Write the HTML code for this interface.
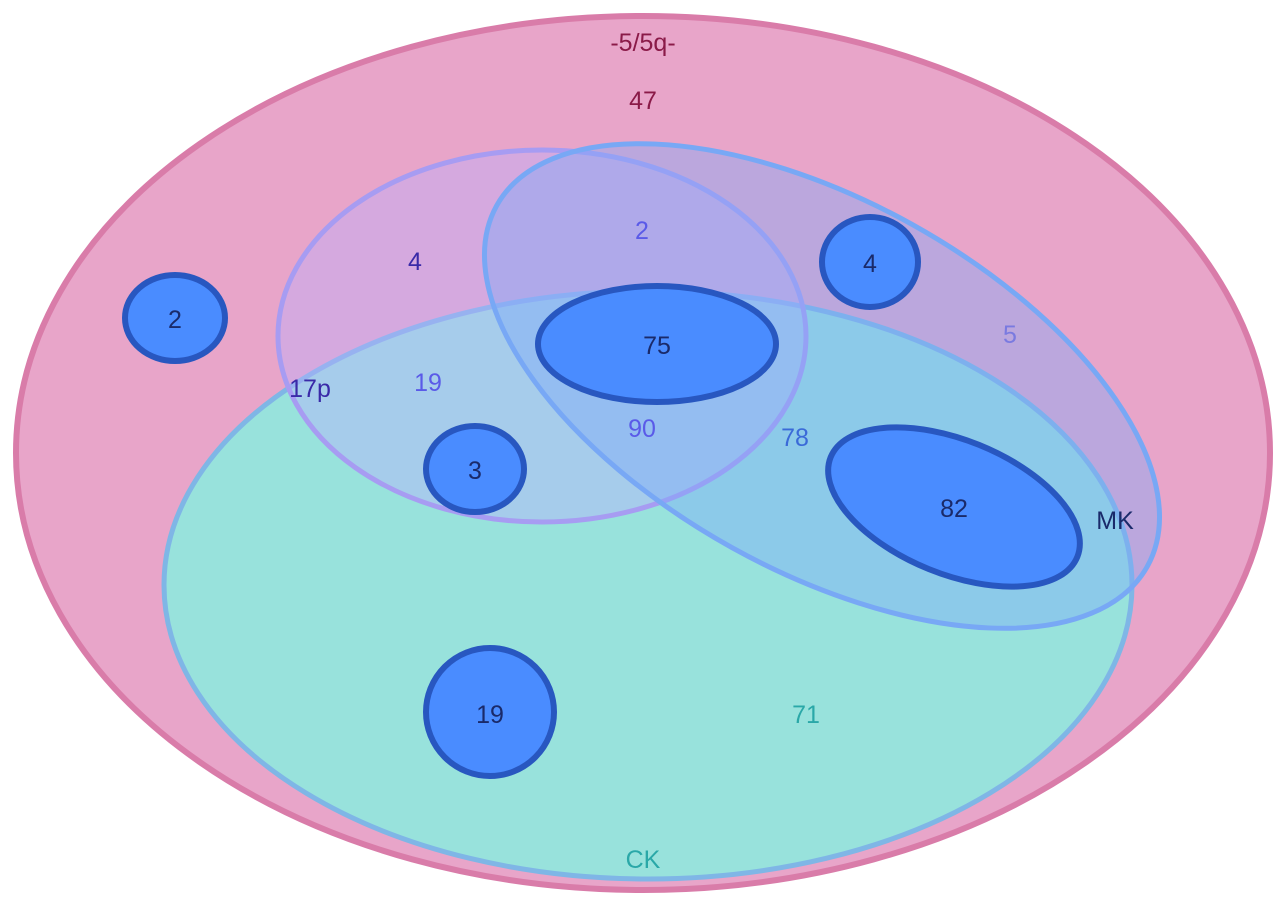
<!DOCTYPE html>
<html><head><style>body{margin:0;background:#fff}svg{display:block}text{font-family:"Liberation Sans",sans-serif;font-size:25px;text-anchor:middle;dominant-baseline:central}</style></head>
<body>
<svg width="1280" height="909" viewBox="0 0 1280 909">
<ellipse cx="643" cy="453" rx="627" ry="437" fill="#e8a5c9" stroke="#d97ca9" stroke-width="6"/>
<ellipse cx="648" cy="585" rx="484" ry="294" fill="#98e2dc" stroke="#7fb6e6" stroke-width="5"/>
<ellipse cx="542" cy="336" rx="264" ry="186" fill="rgba(185,175,255,0.42)" stroke="#a79cf2" stroke-width="5"/>
<ellipse cx="822" cy="386" rx="372" ry="185" transform="rotate(29 822 386)" fill="rgba(125,170,250,0.42)" stroke="#78a8f5" stroke-width="5"/>
<g fill="#4a8cff" stroke="#2857c0" stroke-width="6">
<ellipse cx="175" cy="318" rx="50" ry="43"/>
<ellipse cx="870" cy="262" rx="48" ry="45"/>
<ellipse cx="657" cy="344" rx="119" ry="58"/>
<ellipse cx="475" cy="469" rx="49" ry="43"/>
<ellipse cx="490" cy="712" rx="64" ry="64"/>
<ellipse cx="954" cy="507" rx="133" ry="67" transform="rotate(22 954 507)"/>
</g>
<g fill="#1a2a6a">
<text x="175" y="320">2</text><text x="870" y="264">4</text><text x="657" y="346">75</text>
<text x="475" y="471">3</text><text x="490" y="715">19</text><text x="954" y="509">82</text>
<text x="1115" y="521">MK</text>
</g>
<text x="643" y="43" fill="#8a1a48">-5/5q-</text>
<text x="643" y="101" fill="#8a1a48">47</text>
<text x="642" y="231" fill="#5a5ae8">2</text>
<text x="415" y="262" fill="#3a2aa8">4</text>
<text x="1010" y="335" fill="#7a7ae0">5</text>
<text x="310" y="389" fill="#3a2aa8">17p</text>
<text x="428" y="383" fill="#5a5ae8">19</text>
<text x="642" y="429" fill="#5a5ae8">90</text>
<text x="795" y="438" fill="#3a6ad8">78</text>
<text x="806" y="715" fill="#2aa8a8">71</text>
<text x="643" y="860" fill="#2aa8a8">CK</text>
</svg>
</body></html>
